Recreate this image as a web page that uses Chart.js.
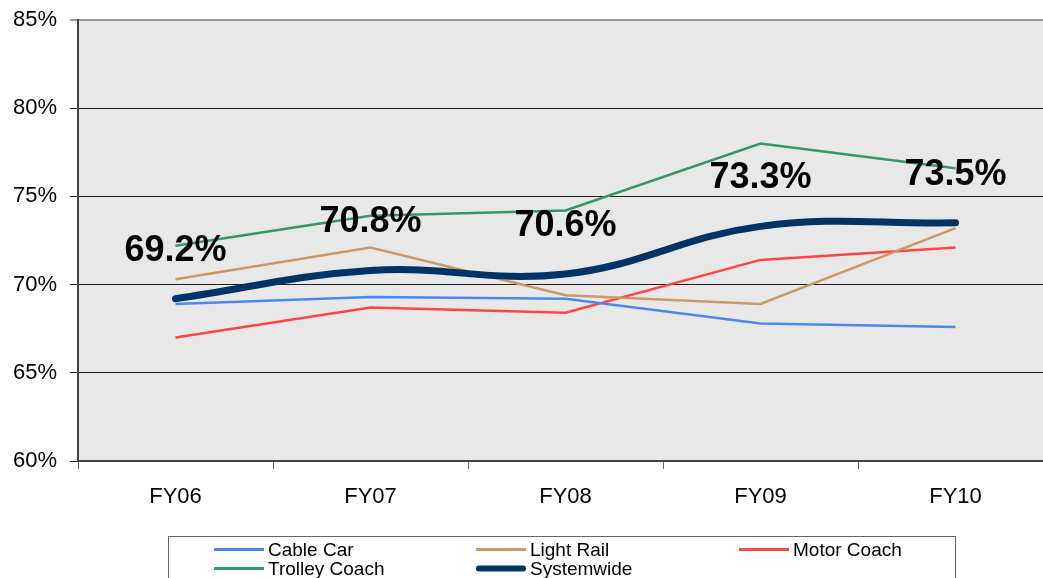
<!DOCTYPE html>
<html>
<head>
<meta charset="utf-8">
<script src="https://cdn.jsdelivr.net/npm/chart.js@4/dist/chart.umd.min.js"></script>
<style>
    html, body { margin: 0; padding: 0; background: #fff; overflow: hidden; }
    #wrap { position: relative; width: 1060px; height: 578px; }
</style>
</head>
<body>
<div id="wrap"><canvas id="ridershipChart" width="1060" height="578"></canvas></div>
<script>
// Fiscal years
const years = ['FY06', 'FY07', 'FY08', 'FY09', 'FY10'];

// Values in percent
const cableCar = [68.9, 69.3, 69.2, 67.8, 67.6];
const lightRail = [70.3, 72.1, 69.4, 68.9, 73.2];
const motorCoach = [67.0, 68.7, 68.4, 71.4, 72.1];
const trolleyCoach = [72.2, 73.9, 74.2, 78.0, 76.6];
const systemwide = [69.2, 70.8, 70.6, 73.3, 73.5];

const yTicks = [60, 65, 70, 75, 80, 85];

const FONT = '"Liberation Sans", Arial, sans-serif';

// Grey plot background
const plotBackground = {
    id: 'plotBackground',
    beforeDraw(chart) {
        const { ctx, chartArea: a } = chart;
        ctx.save();
        ctx.fillStyle = '#e8e8e8';
        ctx.fillRect(a.left, a.top, a.right - a.left, a.bottom - a.top);
        ctx.restore();
    }
};

// Big bold values above the systemwide line
const systemLabels = {
    id: 'systemLabels',
    afterDatasetsDraw(chart) {
        const { ctx } = chart;
        const idx = chart.data.datasets.findIndex(d => d.label === 'Systemwide');
        const meta = chart.getDatasetMeta(idx);
        ctx.save();
        ctx.font = 'bold 36px ' + FONT;
        ctx.fillStyle = '#000';
        ctx.textAlign = 'center';
        ctx.textBaseline = 'middle';
        meta.data.forEach((pt, i) => {
            ctx.fillText(systemwide[i].toFixed(1) + '%', pt.x, pt.y - 48);
        });
        ctx.restore();
    }
};

// Boxed legend at the bottom, three columns
const boxLegend = {
    id: 'boxLegend',
    afterDraw(chart) {
        const { ctx } = chart;
        const cols = [214, 476, 739];
        const rows = [549.5, 568.5];
        ctx.save();
        ctx.strokeStyle = '#666';
        ctx.lineWidth = 1;
        ctx.strokeRect(168.5, 536.5, 787, 60);
        ctx.font = '19px ' + FONT;
        ctx.textBaseline = 'middle';
        ctx.fillStyle = '#000';
        chart.data.datasets.forEach((ds, i) => {
            const x = cols[i % 3];
            const y = rows[Math.floor(i / 3)];
            const thick = ds.label === 'Systemwide';
            ctx.strokeStyle = ds.borderColor;
            ctx.lineWidth = thick ? 6 : 3;
            ctx.lineCap = thick ? 'round' : 'butt';
            ctx.beginPath();
            ctx.moveTo(x + (thick ? 3 : 0), y);
            ctx.lineTo(x + 50 - (thick ? 3 : 0), y);
            ctx.stroke();
            ctx.fillText(ds.label, x + 54, y + 1);
        });
        ctx.restore();
    }
};

const ctx = document.getElementById('ridershipChart').getContext('2d');

new Chart(ctx, {
    type: 'line',
    data: {
        labels: years,
        datasets: [
            { label: 'Cable Car', data: cableCar, borderColor: '#4a88ee', borderWidth: 2.5, tension: 0, order: 1 },
            { label: 'Light Rail', data: lightRail, borderColor: '#cc9966', borderWidth: 2.5, tension: 0, order: 1 },
            { label: 'Motor Coach', data: motorCoach, borderColor: '#ff4444', borderWidth: 2.5, tension: 0, order: 1 },
            { label: 'Trolley Coach', data: trolleyCoach, borderColor: '#339966', borderWidth: 2.5, tension: 0, order: 1 },
            { label: 'Systemwide', data: systemwide, borderColor: '#003366', borderWidth: 7, tension: 0.4, borderCapStyle: 'round', order: 0 }
        ]
    },
    options: {
        responsive: false,
        animation: false,
        devicePixelRatio: 1,
        layout: { padding: { top: 20, right: 7, left: 0, bottom: 0 } },
        elements: { point: { radius: 0, hoverRadius: 0 } },
        plugins: {
            legend: { display: false },
            tooltip: { enabled: false }
        },
        scales: {
            x: {
                offset: true,
                border: { color: '#444', width: 2 },
                grid: { offset: true, drawOnChartArea: false, tickLength: 8, color: '#666' },
                ticks: { color: '#000', padding: 15, maxRotation: 0, font: { size: 22, family: FONT } },
                afterFit(scale) { scale.height = 117; }
            },
            y: {
                min: 60,
                max: 85,
                afterBuildTicks(scale) { scale.ticks = yTicks.map(v => ({ value: v })); },
                border: { color: '#444', width: 2 },
                grid: {
                    tickLength: 8,
                    color: c => c.tick && c.tick.value === 85 ? '#999' : '#222',
                    lineWidth: c => c.tick && c.tick.value === 85 ? 2 : 1
                },
                ticks: {
                    color: '#000',
                    padding: 13,
                    font: { size: 22, family: FONT },
                    callback: v => v + '%'
                },
                afterFit(scale) {
                    scale.width = 78;
                    scale.paddingTop = 0;
                    scale.paddingBottom = 0;
                }
            }
        }
    },
    plugins: [plotBackground, systemLabels, boxLegend]
});
</script>
</body>
</html>
